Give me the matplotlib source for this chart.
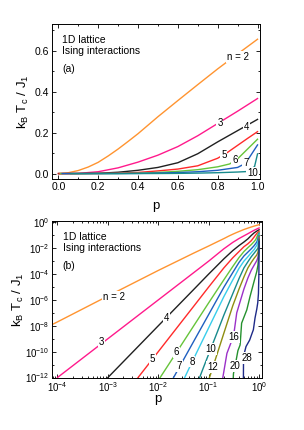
import matplotlib
matplotlib.use("Agg")
import matplotlib.pyplot as plt
from matplotlib.ticker import MultipleLocator, LogLocator, NullFormatter, FormatStrFormatter

plt.rcParams['font.family'] = ['Liberation Sans', 'DejaVu Sans']
plt.rcParams['mathtext.fontset'] = 'custom'
plt.rcParams['mathtext.rm'] = 'Liberation Sans'
plt.rcParams['mathtext.it'] = 'Liberation Sans:italic'

# ---- data ----
p2 = [8e-5, 1e-4, 1e-3, 1e-2, 0.05, 0.1, 0.15, 0.2, 0.25, 0.3, 0.35, 0.4, 0.5, 0.6, 0.7, 0.8, 0.9, 1.0]
y2 = [1.3e-8, 2.0e-8, 2.0e-6, 1.9e-4, 4.1e-3, 0.0148, 0.032, 0.055, 0.086, 0.12, 0.157, 0.195, 0.278, 0.357, 0.435, 0.512, 0.585, 0.657]

p3 = [1e-4, 1e-3, 1e-2, 0.05, 0.1, 0.2, 0.3, 0.4, 0.5, 0.6, 0.7, 0.8, 0.9, 1.0]
y3 = [1e-12, 1e-9, 1e-6, 1.25e-4, 1e-3, 0.009, 0.028, 0.056, 0.09, 0.132, 0.185, 0.245, 0.305, 0.367]

p4 = [9e-4, 1e-2, 0.05, 0.1, 0.2, 0.3, 0.4, 0.5, 0.6, 0.7, 0.8, 0.9, 1.0]
y4 = [6.5e-13, 1e-8, 6.2e-6, 1e-4, 1.5e-3, 6.5e-3, 0.016, 0.03, 0.053, 0.097, 0.155, 0.21, 0.265]

p5 = [3.5e-3, 1e-2, 0.02, 0.05, 0.1, 0.2, 0.3, 0.4, 0.5, 0.6, 0.7, 0.8, 0.85, 0.9, 0.95, 1.0]
y5 = [5.3e-13, 1e-10, 3.2e-9, 3.1e-7, 1e-5, 3e-4, 1.8e-3, 5.5e-3, 0.013, 0.022, 0.038, 0.075, 0.104, 0.138, 0.172, 0.205]

p6 = [0.0095, 0.02, 0.05, 0.1, 0.2, 0.3, 0.4, 0.5, 0.6, 0.7, 0.8, 0.86, 0.9, 0.95, 1.0]
y6 = [4.4e-13, 3.8e-11, 9.4e-9, 6e-7, 3.6e-5, 3.8e-4, 1.9e-3, 5.5e-3, 0.011, 0.019, 0.033, 0.047, 0.072, 0.12, 0.168]

p7 = [0.019, 0.05, 0.1, 0.2, 0.3, 0.4, 0.5, 0.6, 0.7, 0.8, 0.9, 0.94, 0.96, 1.0]
y7 = [6.7e-13, 5.9e-10, 7.5e-8, 9.6e-6, 1.3e-4, 8e-4, 2.5e-3, 5e-3, 9e-3, 0.016, 0.03, 0.05, 0.08, 0.14]

p8 = [0.032, 0.05, 0.1, 0.2, 0.3, 0.4, 0.5, 0.6, 0.7, 0.8, 0.9, 0.95, 0.98, 1.0]
y8 = [7e-13, 2.7e-11, 7e-9, 1.8e-6, 3.5e-5, 2.8e-4, 1e-3, 2.2e-3, 4.5e-3, 8e-3, 0.017, 0.03, 0.055, 0.12]

p10 = [0.062, 0.08, 0.1, 0.15, 0.2, 0.3, 0.4, 0.5, 0.6, 0.7, 0.8, 0.9, 0.95, 0.985, 1.0]
y10 = [5.3e-13, 7e-12, 6.5e-11, 3.7e-9, 6.7e-8, 3e-6, 4.5e-5, 3e-4, 9e-4, 2.2e-3, 4.2e-3, 7.5e-3, 0.01, 0.034, 0.096]

p12 = [0.1, 0.15, 0.2, 0.3, 0.4, 0.5, 0.6, 0.7, 0.8, 0.9, 0.95, 0.98, 1.0]
y12 = [6.5e-13, 8.4e-11, 2.7e-9, 3.5e-7, 7e-6, 6e-5, 3e-4, 8e-4, 1.7e-3, 3e-3, 5e-3, 0.012, 0.08]

p16 = [0.185, 0.197, 0.23, 0.29, 0.31, 0.36, 0.45, 0.5, 0.6, 0.7, 0.8, 0.9, 0.95, 0.98, 1.0]
y16 = [5e-13, 2.1e-12, 7.4e-11, 7.9e-10, 1.4e-9, 1e-7, 1.8e-6, 7e-6, 5e-5, 2e-4, 5e-4, 1.1e-3, 2e-3, 5e-3, 0.06]

p20 = [0.305, 0.31, 0.334, 0.38, 0.42, 0.45, 0.57, 0.66, 0.8, 0.9, 0.95, 0.98, 1.0]
y20 = [5e-13, 2e-12, 7.9e-12, 1.2e-10, 3.3e-10, 1.6e-8, 1.7e-7, 1.8e-6, 3e-5, 1.6e-4, 5e-4, 2.5e-3, 0.048]

p28 = [0.487, 0.49, 0.495, 0.55, 0.65, 0.71, 0.77, 0.83, 0.9, 0.94, 0.97, 0.99, 1.0]
y28 = [1e-13, 1e-11, 5e-11, 2.5e-10, 7.9e-10, 2.1e-9, 5e-9, 4e-8, 2e-7, 6e-7, 3e-6, 1e-4, 0.034]

n_values = [2, 3, 4, 5, 6, 7, 8, 10, 12, 16, 20, 28]
colors = ['#FF9430', '#FF1A8C', '#202020', '#FF2A2A', '#66C43A', '#1F5FC0',
          '#38CDEB', '#178A8C', '#8E8E10', '#9B30C8', '#25912E', '#1E2A88']
curves = {2: (p2, y2), 3: (p3, y3), 4: (p4, y4), 5: (p5, y5), 6: (p6, y6),
          7: (p7, y7), 8: (p8, y8), 10: (p10, y10), 12: (p12, y12),
          16: (p16, y16), 20: (p20, y20), 28: (p28, y28)}
top_n = [2, 3, 4, 5, 6, 7, 10]

# label positions (p, value)
top_labels = {2: ('n = 2', 0.903, 0.571), 3: ('3', 0.811, 0.249), 4: ('4', 0.945, 0.229),
              5: ('5', 0.831, 0.089), 6: ('6', 0.886, 0.067), 7: ('7', 0.941, 0.05),
              10: ('10', 0.975, 0.004)}
bot_labels = {2: ('n = 2', 1.32e-3, 1.8e-6), 3: ('3', 7.4e-4, 6e-10), 4: ('4', 1.45e-2, 4.0e-8),
              5: ('5', 7.6e-3, 2.5e-11), 6: ('6', 2.29e-2, 8.9e-11), 7: ('7', 2.65e-2, 7.9e-12),
              8: ('8', 4.66e-2, 1.7e-11), 10: ('10', 0.112, 1.6e-10), 12: ('12', 0.119, 6.3e-12),
              16: ('16', 0.31, 1.4e-9), 20: ('20', 0.334, 7.9e-12), 28: ('28', 0.57, 3.2e-11)}

fig = plt.figure(figsize=(3.04, 4.30), dpi=100)
ax1 = fig.add_axes([0.171, 0.584, 0.684, 0.3595])
ax2 = fig.add_axes([0.172, 0.122, 0.691, 0.364])

lw = 1.0
for n, c in zip(n_values, colors):
    px, py = curves[n]
    if n in top_n:
        ax1.plot(px, py, color=c, lw=lw, zorder=2)
    ax2.plot(px, py, color=c, lw=lw, zorder=2)

bbox = dict(boxstyle='square,pad=0.08', fc='white', ec='none')
for n, (t, x, y) in top_labels.items():
    ax1.text(x, y, t, fontsize=7, ha='center', va='center', bbox=bbox, zorder=3)
for n, (t, x, y) in bot_labels.items():
    ax2.text(x, y, t, fontsize=7, ha='center', va='center', bbox=bbox, zorder=3)

# top panel axes
ax1.set_xlim(-0.032, 1.012)
ax1.set_ylim(-0.026, 0.73)
ax1.xaxis.set_major_locator(MultipleLocator(0.2))
ax1.xaxis.set_minor_locator(MultipleLocator(0.1))
ax1.yaxis.set_major_locator(MultipleLocator(0.2))
ax1.yaxis.set_minor_locator(MultipleLocator(0.1))
ax1.xaxis.set_major_formatter(FormatStrFormatter('%.1f'))
ax1.yaxis.set_major_formatter(FormatStrFormatter('%.1f'))

# bottom panel axes
ax2.set_xscale('log')
ax2.set_yscale('log')
ax2.set_xlim(7.9e-5, 1.16)
ax2.set_ylim(1e-12, 1.26)
ax2.xaxis.set_major_locator(LogLocator(base=10, numticks=20))
ax2.xaxis.set_minor_locator(LogLocator(base=10, subs=tuple(range(2, 10)), numticks=20))
ax2.xaxis.set_minor_formatter(NullFormatter())
ax2.yaxis.set_major_locator(LogLocator(base=100, numticks=20))
ax2.yaxis.set_minor_locator(LogLocator(base=10, subs=(1.0,), numticks=30))
ax2.yaxis.set_minor_formatter(NullFormatter())

for ax, ls in ((ax1, 7.5), (ax2, 7)):
    ax.tick_params(which='both', direction='in', top=True, right=True, labelsize=ls, width=0.6)
    ax.tick_params(which='major', length=3, pad=2)
    ax.tick_params(which='minor', length=1.6)
    for s in ax.spines.values():
        s.set_linewidth(0.7)
    ax.set_ylabel(r'$\mathregular{k_B\ T_c\ /\ J_1}$', fontsize=9.5)
    ax.set_xlabel('p', fontsize=9.5)

ax1.yaxis.set_label_coords(-0.10, 0.5)
ax2.yaxis.set_label_coords(-0.125, 0.5)
ax1.xaxis.set_label_coords(0.5, -0.135)
ax2.xaxis.set_label_coords(0.5, -0.097)

fs = 7.5
ax1.text(0.05, 0.90, '1D lattice', transform=ax1.transAxes, fontsize=fs, va='center')
ax1.text(0.05, 0.83, 'Ising interactions', transform=ax1.transAxes, fontsize=fs, va='center')
ax1.text(0.05, 0.71, '(a)', transform=ax1.transAxes, fontsize=fs, va='center')
ax2.text(0.05, 0.90, '1D lattice', transform=ax2.transAxes, fontsize=fs, va='center')
ax2.text(0.05, 0.83, 'Ising interactions', transform=ax2.transAxes, fontsize=fs, va='center')
ax2.text(0.05, 0.71, '(b)', transform=ax2.transAxes, fontsize=fs, va='center')

fig.savefig('out.png', dpi=100)
